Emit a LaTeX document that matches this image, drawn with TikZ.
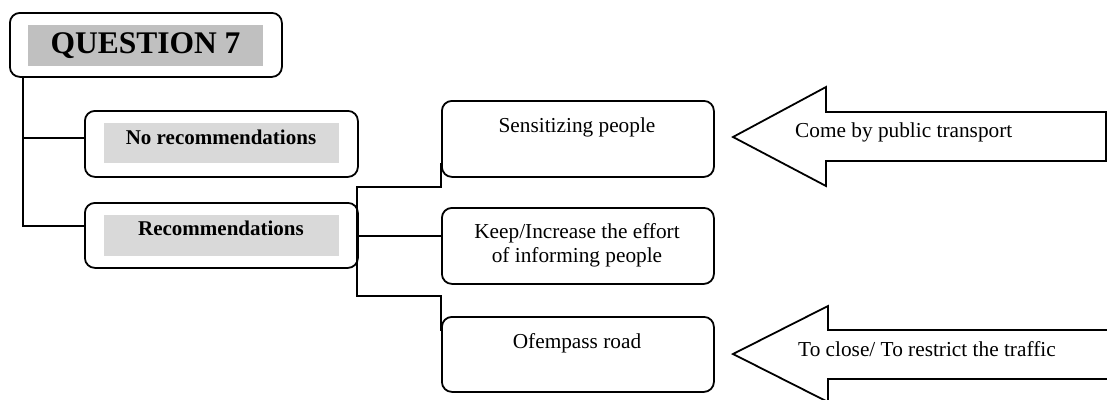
\documentclass[tikz,border=0pt]{standalone}
\usepackage{fontspec}
\setmainfont{Liberation Serif}
\definecolor{qgray}{HTML}{C0C0C0}
\definecolor{lgray}{HTML}{D9D9D9}
\tikzset{
  rbox/.style={draw, line width=1.8pt, rounded corners=10pt, inner sep=0pt, anchor=north west},
  conn/.style={line width=1.8pt},
  bigarrow/.style={draw, line width=1.8pt, line join=miter},
  reg/.style={font=\fontsize{21.3}{24}\selectfont, inner sep=0pt},
  bld/.style={font=\fontsize{21}{24}\selectfont\bfseries, inner sep=0pt},
}
\begin{document}
\begin{tikzpicture}[x=1pt,y=-1pt]
\clip (0,0) rectangle (1107,399);
\fill[white] (0,0) rectangle (1107,399);
% boxes
\node[rbox, minimum width=272pt, minimum height=64pt] (q) at (9,12) {};
\node[rbox, minimum width=273pt, minimum height=66pt] (norec) at (84,110) {};
\node[rbox, minimum width=273pt, minimum height=65pt] (rec) at (84,202) {};
\node[rbox, minimum width=272pt, minimum height=76pt] (sens) at (441,100) {};
\node[rbox, minimum width=272pt, minimum height=76pt] (keep) at (441,207) {};
\node[rbox, minimum width=272pt, minimum height=75pt] (ofem) at (441,316) {};
% gray fills
\fill[qgray] (28,25) rectangle (263,66);
\fill[lgray] (104,123) rectangle (339,163);
\fill[lgray] (104,215) rectangle (339,256);
% texts
\node[inner sep=0pt, font=\fontsize{31.5}{34}\selectfont\bfseries] (qt) at (145.5,46) {QUESTION 7};
\node[bld] (norect) at (221,137) {No recommendations};
\node[bld] (rect) at (221,228) {Recommendations};
\node[reg] (senst) at (577,127) {Sensitizing people};
\node[reg, align=center] (keept) at (577,245) {Keep/Increase the effort\\of informing people};
\node[reg] (ofemt) at (577,343) {Ofempass road};
% connectors
\coordinate (j1) at (357,187);
\coordinate (j2) at (357,296);
\draw[conn] ([xshift=14pt]q.south west) |- ([yshift=6pt]norec.west);
\draw[conn] ([xshift=14pt]q.south west) |- ([yshift=9.5pt]rec.west);
\draw[conn] ([yshift=15pt]sens.south west) |- (j1) -- (j2) -| ([yshift=-15pt]ofem.north west);
\draw[conn] ([yshift=10pt]keep.west) -| (j1);
% big arrows
\draw[bigarrow] (733,137) -- (826,87) -- (826,112) -- (1106,112) -- (1106,161) -- (826,161) -- (826,186) -- cycle;
\draw[bigarrow] (1115,330) -- (828,330) -- (828,306) -- (733,354) -- (828,402) -- (828,379) -- (1115,379);
\node[reg, anchor=west] (a1t) at (795,132) {Come by public transport};
\node[reg, anchor=west] (a2t) at (798,349) {To close/ To restrict the traffic};
\end{tikzpicture}
\end{document}
